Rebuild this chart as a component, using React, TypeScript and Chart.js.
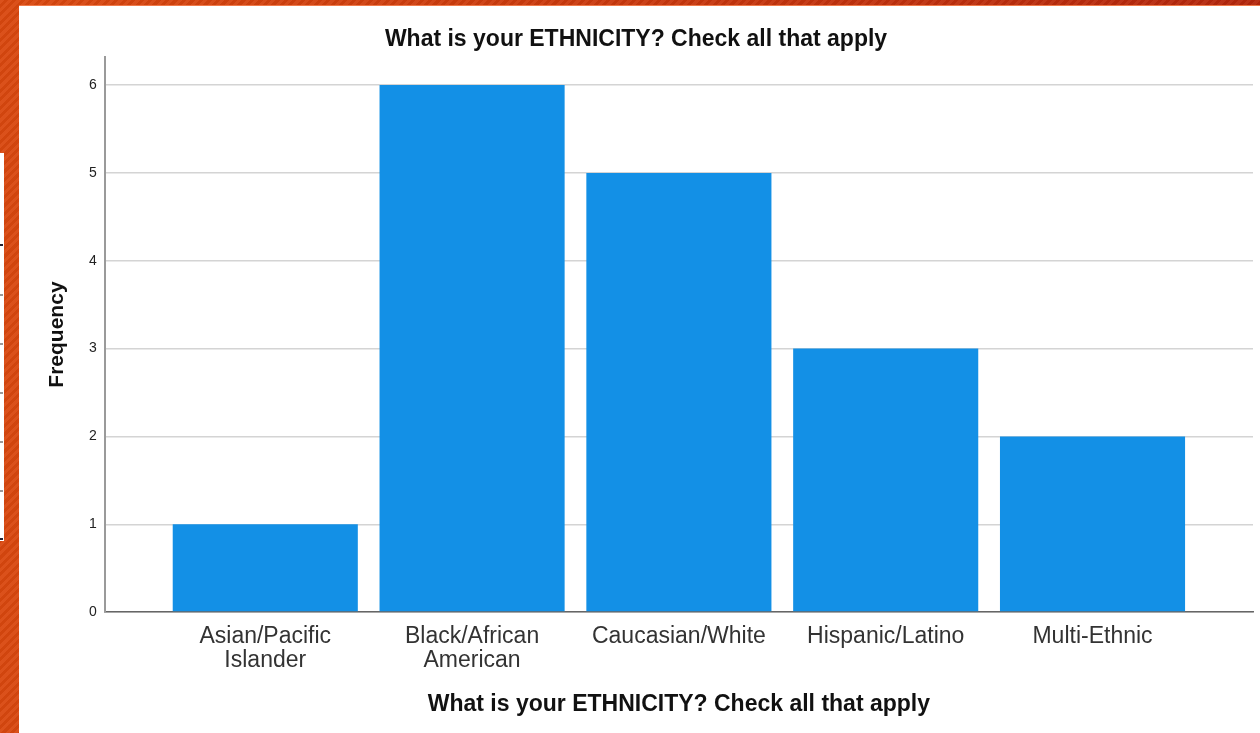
import React, { useEffect, useRef } from "react";
import { Chart, registerables } from "chart.js";

Chart.register(...registerables);

const categories: string[][] = [
  ["Asian/Pacific", "Islander"],
  ["Black/African", "American"],
  ["Caucasian/White"],
  ["Hispanic/Latino"],
  ["Multi-Ethnic"],
];
const frequencies: number[] = [1, 6, 5, 3, 2];
const yTicks: number[] = [0, 1, 2, 3, 4, 5, 6];
const chartTitle = "What is your ETHNICITY? Check all that apply";
const xTitle = "What is your ETHNICITY? Check all that apply";
const yTitle = "Frequency";

const FONT = "'Liberation Sans', Arial, Helvetica, sans-serif";

export default function App() {
  const ref = useRef<HTMLCanvasElement | null>(null);

  useEffect(() => {
    if (!ref.current) return;
    const chart = new Chart(ref.current, {
      type: "bar",
      data: {
        datasets: [
          {
            label: yTitle,
            data: frequencies.map((v, i) => ({ x: i, y: v })),
            backgroundColor: "#1390e6",
            borderWidth: 0,
            barPercentage: 0.895,
            categoryPercentage: 1,
          },
        ],
      },
      options: {
        animation: false,
        responsive: false,
        maintainAspectRatio: false,
        layout: { padding: { left: 0, right: 7, top: 0, bottom: 0 } },
        plugins: {
          legend: { display: false },
          tooltip: { enabled: false },
          title: {
            display: true,
            text: chartTitle,
            color: "#111",
            font: { family: FONT, size: 23, weight: "bold", lineHeight: 1.2 },
            padding: { top: 20, bottom: 3.4 },
          },
        },
        scales: {
          x: {
            type: "linear",
            min: -0.776,
            max: 4.776,
            offset: false,
            grid: { display: false, drawTicks: false },
            border: { display: true, color: "#666", width: 1.5 },
            afterBuildTicks: (axis: any) => {
              axis.ticks = categories.map((_, i) => ({ value: i }));
            },
            ticks: {
              autoSkip: false,
              maxRotation: 0,
              padding: 13,
              color: "#333",
              font: { family: FONT, size: 23, lineHeight: 1.02 },
              callback: (v: any) => categories[Math.round(Number(v))] ?? "",
            },
            title: {
              display: true,
              text: xTitle,
              color: "#111",
              font: { family: FONT, size: 23, weight: "bold", lineHeight: 1.2 },
              padding: { top: 6.2, bottom: 14.2 },
            },
          },
          y: {
            min: 0,
            max: 6.32,
            afterBuildTicks: (axis: any) => {
              axis.ticks = yTicks.map((v) => ({ value: v }));
            },
            grid: { color: "#d4d4d4", lineWidth: 1.5, drawTicks: false },
            border: { display: true, color: "#9a9a9a", width: 2 },
            ticks: {
              padding: 8,
              color: "#222",
              font: { family: FONT, size: 14 },
            },
            title: {
              display: true,
              text: yTitle,
              color: "#111",
              font: { family: FONT, size: 21, weight: "bold", lineHeight: 1.2 },
              padding: { top: 25.4, bottom: 11.4 },
            },
          },
        },
      },
    } as any);
    return () => chart.destroy();
  }, []);

  const sideTicks = [244, 294, 343, 392, 441, 490, 538];

  return (
    <div
      style={{
        position: "fixed",
        left: 0,
        top: 0,
        width: 1260,
        height: 733,
        overflow: "hidden",
        background:
          "repeating-linear-gradient(135deg, rgba(255,255,255,0.05) 0px, rgba(255,255,255,0.05) 3px, rgba(0,0,0,0.04) 3px, rgba(0,0,0,0.04) 6px), linear-gradient(90deg, #d9480f 0%, #c9380d 50%, #b4260c 100%)",
      }}
    >
      <div
        style={{
          position: "absolute",
          left: 0,
          top: 153,
          width: 4,
          height: 388,
          background: "#fff",
        }}
      >
        {sideTicks.map((t, i) => (
          <div
            key={i}
            style={{
              position: "absolute",
              left: 0,
              top: t - 153,
              width: 3,
              height: 2,
              background: i === 0 || i === sideTicks.length - 1 ? "#223" : "#999",
            }}
          />
        ))}
      </div>
      <div
        style={{
          position: "absolute",
          left: 19,
          top: 5,
          width: 1241,
          height: 728,
          background: "#fff",
          borderTop: "1px solid #f07a4a",
          boxSizing: "border-box",
        }}
      >
        <canvas ref={ref} width={1241} height={727} style={{ display: "block" }} />
      </div>
    </div>
  );
}
